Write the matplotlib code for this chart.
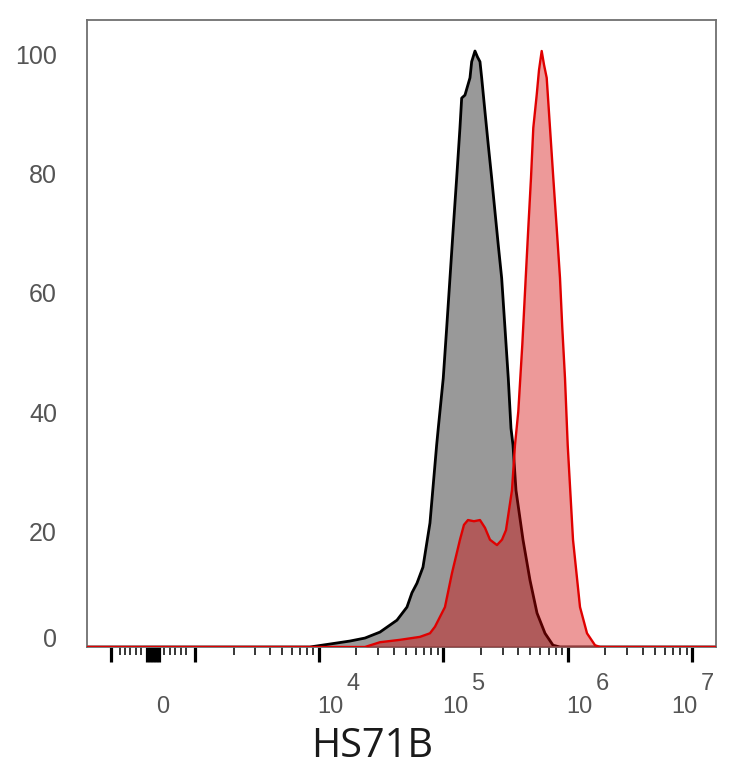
import numpy as np
import matplotlib
matplotlib.use("Agg")
import matplotlib.pyplot as plt
from matplotlib.ticker import FixedLocator, NullFormatter
from matplotlib.transforms import ScaledTranslation, blended_transform_factory

# ---------------- data ----------------
# control (grey) histogram: fluorescence value, % of max
ctrl_x = [-1434, 7030, 8455, 12280, 17780, 23460, 30960, 42400, 51030, 55950,
          61380, 68590, 78050, 88340, 91000, 99800, 106300, 113000, 120100,
          127900, 135900, 140300, 149100, 163600, 168800, 179400, 187900,
          196800, 203100, 215900, 229500, 244300, 259800, 276100, 293900,
          312500, 332100, 349100, 362300, 383000, 436000, 496300, 564900,
          654900, 759300, 864100, 1.546e7]
ctrl_y = [0, 0, 0, 0.5, 1.0, 1.5, 2.5, 4.5, 6.7, 9.1,
          10.7, 13.4, 20.8, 33.9, 36.7, 45.1, 53.5, 61.9, 70.3,
          78.7, 87.1, 92.1, 92.6, 95.5, 98.2, 100, 99.0,
          98.2, 95.5, 89.8, 84.2, 78.7, 73.0, 67.4, 61.9,
          53.5, 45.1, 36.7, 33.9, 26.3, 18.0, 11.2, 5.7,
          2.3, 0.3, 0, 0]

# HS71B stained (red) histogram
stain_x = [-1434, 23460, 30960, 44820, 64880, 78050, 85620, 103000, 117300,
           135950, 146400, 157600, 176100, 196800, 215900, 236800, 269500,
           295600, 318300, 355600, 376000, 399600, 430400, 458400, 480900,
           505400, 527400, 561600, 586100, 616000, 642900, 675700, 718300,
           763400, 813000, 864100, 901700, 947700, 996300, 1099000, 1251000,
           1424000, 1651000, 1811000, 1.546e7]
stain_y = [0, 0, 0.8, 1.2, 1.7, 2.3, 3.4, 6.7, 12.4,
           18.0, 20.5, 21.3, 21.1, 21.3, 20.0, 18.0, 17.1,
           18.0, 19.6, 26.3, 33.9, 39.5, 50.7, 61.9, 70.3,
           78.7, 87.1, 92.6, 96.8, 100, 97.7, 95.5, 87.1,
           78.7, 70.3, 61.9, 53.5, 45.1, 33.9, 18.0, 6.7,
           2.3, 0.3, 0, 0]

y_ticks = [0, 20, 40, 60, 80, 100]
y_ticklabels = ["0", "20", "40", "60", "80", "100"]

x_major = [-800, -100, -50, 0, 50, 100, 800, 1e4, 1e5, 1e6, 1e7]
x_minor = ([-600, -500, -400, -300, -200, 200, 300, 400, 500, 600] +
           [m * 10 ** e for e in (3, 4, 5, 6) for m in range(2, 10)])
x_label_vals = [0, 1e4, 1e5, 1e6, 1e7]
x_label_base = ["0", "10", "10", "10", "10"]
x_label_exp = ["", "4", "5", "6", "7"]
x_title = "HS71B"

# ---------------- figure ----------------
W = 930.0
def fwd(v):
    return np.arcsinh(np.asarray(v, dtype=float) / W)
def inv(v):
    return W * np.sinh(np.asarray(v, dtype=float))

fig = plt.figure(figsize=(7.34, 7.68), dpi=100)
ax = fig.add_axes([87 / 734, 121 / 768, 629 / 734, 627 / 768])
ax.set_xscale("function", functions=(fwd, inv))

ax.fill_between(ctrl_x, ctrl_y, 0, color="#999999", lw=0, zorder=1)
ax.plot(ctrl_x, ctrl_y, color="black", lw=2.0, zorder=2,
        solid_joinstyle="round")
ax.fill_between(stain_x, stain_y, 0, color="#d40000", alpha=0.4, lw=0, zorder=3)
ax.plot(stain_x, stain_y, color="#e00000", lw=1.7, zorder=4,
        solid_joinstyle="round")

ax.set_xlim(-1434, 1.546e7)
ax.set_ylim(0, 105.2)

for s in ax.spines.values():
    s.set_color("#707070")
    s.set_linewidth(1.3)

ax.xaxis.set_major_locator(FixedLocator(x_major))
ax.xaxis.set_minor_locator(FixedLocator(x_minor))
ax.xaxis.set_major_formatter(NullFormatter())
ax.xaxis.set_minor_formatter(NullFormatter())
ax.tick_params(axis="x", which="major", direction="out", length=11, width=2.3,
               color="black")
ax.tick_params(axis="x", which="minor", direction="out", length=5.4, width=1.1,
               color="black")

ax.set_yticks(y_ticks, y_ticklabels)
ax.tick_params(axis="y", length=0, pad=21.6, labelsize=18, labelcolor="#555555")
for i, tk in enumerate(ax.yaxis.get_major_ticks()):
    lab = tk.label1
    lab.set_fontfamily(["Liberation Sans", "DejaVu Sans"])
    dy = -0.035 + (0.13 if i == 0 else 0.0)
    lab.set_transform(lab.get_transform() +
                      ScaledTranslation(0, dy, fig.dpi_scale_trans))

# x tick labels (base + raised exponent)
trans = blended_transform_factory(ax.transData, ax.transAxes)
dx_px = [3, -1.5, -1, -1.5, -21]
for v, b, e, dx in zip(x_label_vals, x_label_base, x_label_exp, dx_px):
    t1 = trans + ScaledTranslation(dx / 100, -66 / 100, fig.dpi_scale_trans)
    ax.text(v, 0, b, transform=t1, ha="left", va="baseline", fontsize=17,
            color="#555555", family=["Liberation Sans", "DejaVu Sans"],
            clip_on=False)
    if e:
        t2 = trans + ScaledTranslation((dx + 29) / 100, -43 / 100,
                                       fig.dpi_scale_trans)
        ax.text(v, 0, e, transform=t2, ha="left", va="baseline", fontsize=17,
                color="#555555", family=["Liberation Sans", "DejaVu Sans"],
                clip_on=False)

ax.set_xlabel(x_title, fontsize=28.5, family=["Open Sans", "DejaVu Sans"],
              color="#1a1a1a", va="center")
ax.xaxis.set_label_coords((372.5 - 87) / 629, -(747 - 647) / 627)

fig.savefig("out.png", dpi=100)
